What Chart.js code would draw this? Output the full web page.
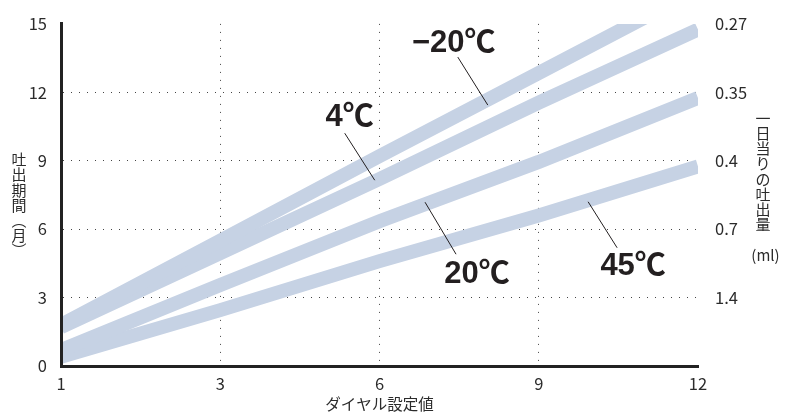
<!DOCTYPE html>
<html lang="ja">
<head>
<meta charset="utf-8">
<title>ダイヤル設定値と吐出期間</title>
<script src="https://cdn.jsdelivr.net/npm/chart.js@4.4.1/dist/chart.umd.min.js"></script>
<style>
  html, body { margin: 0; padding: 0; background: #ffffff; }
  #wrap { width: 795px; height: 414px; position: relative; }
</style>
</head>
<body>
<div id="wrap"><canvas id="chart" width="795" height="414"></canvas></div>
<script>
// Dial settings on the horizontal axis (evenly spaced categories)
const dialSettings = ['1', '3', '6', '9', '12'];

// Dispensing period in months for each ambient temperature
const monthsMinus20 = [1.8, 5.5, 9.2, 12.85, 16.5];
const months4 = [1.7, 4.95, 8.2, 11.55, 14.75];
const months20 = [0.7, 3.55, 6.35, 8.95, 11.75];
const months45 = [0.4, 2.45, 4.6, 6.6, 8.75];

// Left axis ticks (months) and the matching daily output (ml) on the right
const monthTicks = [0, 3, 6, 9, 12, 15];
const dailyOutputLabels = ['', '1.4', '0.7', '0.4', '0.35', '0.27'];

const temperatureLabels = ['\u221220\u2103', '4\u2103', '20\u2103', '45\u2103'];

const BAND = '#c6d2e4';
const INK = '#231f20';
const TEXT = '#2b2b2b';
const FONT = "'Noto Sans CJK JP', 'Noto Sans', sans-serif";

// Where each temperature callout sits: a point along its line (fractional
// category index) plus pixel offsets for the leader ends and the text.
const callouts = [
  { at: 2.68, leader: [[0, 5.5], [-30, -42.5]], text: [-34, -56.5] },
  { at: 1.97, leader: [[0, -1], [-30, -48]], text: [-25, -64] },
  { at: 2.286, leader: [[0, -2], [31, 50]], text: [52, 70] },
  { at: 3.31, leader: [[0, 1.5], [29, 47.5]], text: [45, 66] }
];

const series = [monthsMinus20, months4, months20, months45];

function valueAt(values, t) {
  const i = Math.min(Math.floor(t), values.length - 2);
  const f = t - i;
  return values[i] + (values[i + 1] - values[i]) * f;
}

const calloutPlugin = {
  id: 'callouts',
  afterDatasetsDraw(chart) {
    const ctx = chart.ctx;
    const xs = chart.scales.x;
    const ys = chart.scales.y;
    ctx.save();
    callouts.forEach((c, k) => {
      const px = xs.getPixelForValue(c.at);
      const py = ys.getPixelForValue(valueAt(series[k], c.at));
      ctx.strokeStyle = INK;
      ctx.lineWidth = 1;
      ctx.beginPath();
      ctx.moveTo(px + c.leader[0][0], py + c.leader[0][1]);
      ctx.lineTo(px + c.leader[1][0], py + c.leader[1][1]);
      ctx.stroke();
      ctx.fillStyle = INK;
      ctx.font = "bold 31px 'Liberation Sans', 'Noto Sans CJK JP', sans-serif";
      ctx.textAlign = 'center';
      ctx.textBaseline = 'middle';
      ctx.fillText(temperatureLabels[k], px + c.text[0], py + c.text[1]);
    });
    ctx.restore();
  }
};

// Axis titles: vertical (upright) Japanese text on both sides, horizontal below
const titlePlugin = {
  id: 'axisTitles',
  afterDraw(chart) {
    const ctx = chart.ctx;
    const area = chart.chartArea;
    ctx.save();
    ctx.fillStyle = TEXT;
    ctx.textAlign = 'center';
    ctx.textBaseline = 'middle';
    ctx.font = '15px ' + FONT;

    const leftTitle = ['吐', '出', '期', '間', '\uFE35', '月', '\uFE36'];
    leftTitle.forEach((ch, i) => ctx.fillText(ch, 19, 159.5 + i * 15.2));

    const rightTitle = ['一', '日', '当', 'り', 'の', '吐', '出', '量'];
    rightTitle.forEach((ch, i) => ctx.fillText(ch, area.right + 65, 118 + i * 15.2));
    ctx.fillText('(ml)', area.right + 67.5, 255);

    ctx.font = '15.5px ' + FONT;
    ctx.fillText('ダイヤル設定値', (area.left + area.right) / 2, 404);
    ctx.restore();
  }
};

const gridColor = (visible) => visible ? '#444444' : 'rgba(0,0,0,0)';

const makeDataset = (values) => ({
  data: values,
  borderColor: BAND,
  backgroundColor: BAND,
  borderWidth: 14,
  pointRadius: 0,
  pointHoverRadius: 0,
  tension: 0,
  fill: false,
  clip: 0
});

new Chart(document.getElementById('chart'), {
  type: 'line',
  data: {
    labels: dialSettings,
    datasets: series.map(makeDataset)
  },
  options: {
    responsive: false,
    devicePixelRatio: 1,
    animation: false,
    events: [],
    layout: { padding: { top: 20, left: 0, right: 0, bottom: 0 } },
    plugins: { legend: { display: false }, tooltip: { enabled: false } },
    scales: {
      x: {
        type: 'category',
        offset: false,
        afterFit(s) { s.height = 48; },
        grid: {
          drawTicks: false,
          lineWidth: 1,
          color: (c) => gridColor(c.index > 0 && c.index < dialSettings.length - 1)
        },
        border: { display: true, color: '#222222', width: 3, dash: [1, 7], z: 1 },
        ticks: { color: TEXT, font: { family: FONT, size: 16.5 }, padding: 8, maxRotation: 0 }
      },
      y: {
        position: 'left',
        min: 0,
        max: 15,
        afterFit(s) { s.width = 61; },
        afterBuildTicks(s) { s.ticks = monthTicks.map(v => ({ value: v })); },
        grid: {
          drawTicks: false,
          lineWidth: 1,
          color: (c) => gridColor(c.tick && c.tick.value > 0 && c.tick.value < 15)
        },
        border: { display: true, color: '#222222', width: 3, dash: [1, 7], z: 1 },
        ticks: { color: TEXT, font: { family: FONT, size: 16.5 }, padding: 14 }
      },
      y2: {
        position: 'right',
        min: 0,
        max: 15,
        afterFit(s) { s.width = 97; },
        afterBuildTicks(s) { s.ticks = monthTicks.map(v => ({ value: v })); },
        grid: { display: false, drawOnChartArea: false },
        border: { display: false },
        ticks: {
          color: TEXT,
          font: { family: FONT, size: 16.5 },
          padding: 9,
          callback: (v) => dailyOutputLabels[monthTicks.indexOf(v)]
        }
      }
    }
  },
  plugins: [calloutPlugin, titlePlugin]
});
</script>
</body>
</html>
